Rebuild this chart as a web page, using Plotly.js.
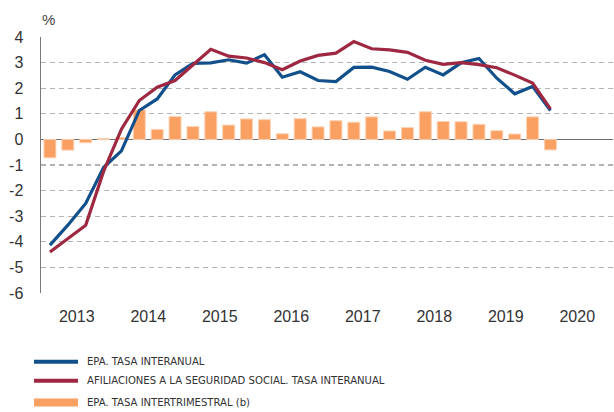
<!DOCTYPE html>
<html>
<head>
<meta charset="utf-8">
<script src="https://cdn.plot.ly/plotly-3.0.1.min.js"></script>
<style>html,body{margin:0;padding:0;background:#fff;}#chart{width:614px;height:412px;}</style>
</head>
<body>
<div id="chart"></div>
<script>
// Quarterly periods
var periodos = [
  "2013-T1","2013-T2","2013-T3","2013-T4",
  "2014-T1","2014-T2","2014-T3","2014-T4",
  "2015-T1","2015-T2","2015-T3","2015-T4",
  "2016-T1","2016-T2","2016-T3","2016-T4",
  "2017-T1","2017-T2","2017-T3","2017-T4",
  "2018-T1","2018-T2","2018-T3","2018-T4",
  "2019-T1","2019-T2","2019-T3","2019-T4",
  "2020-T1"
];
// EPA. Tasa interanual (%)
var epaInteranual = [
  -4.13, -3.35, -2.50, -1.10,
  -0.45, 1.13, 1.58, 2.52,
  2.97, 2.99, 3.11, 2.98,
  3.31, 2.43, 2.64, 2.30,
  2.26, 2.81, 2.82, 2.65,
  2.35, 2.82, 2.52, 2.99,
  3.16, 2.39, 1.78, 2.07,
  1.13
];
// Afiliaciones a la Seguridad Social. Tasa interanual (%)
var afiliaciones = [
  -4.40, -3.87, -3.35, -1.25,
  0.40, 1.52, 2.04, 2.30,
  2.90, 3.52, 3.25, 3.18,
  3.00, 2.72, 3.06, 3.28,
  3.37, 3.82, 3.54, 3.50,
  3.40, 3.09, 2.93, 3.00,
  2.92, 2.80, 2.51, 2.20,
  1.19
];
// EPA. Tasa intertrimestral (%)
var epaIntertrimestral = [
  -0.72, -0.42, -0.13, 0.04,
  0.07, 1.15, 0.39, 0.89,
  0.50, 1.08, 0.56, 0.80,
  0.77, 0.22, 0.81, 0.49,
  0.73, 0.67, 0.88, 0.33,
  0.46, 1.08, 0.70, 0.69,
  0.59, 0.34, 0.21, 0.88,
  -0.41
];
var anios = ["2013","2014","2015","2016","2017","2018","2019","2020"];
var yTicks = [4, 3, 2, 1, 0, -1, -2, -3, -4, -5, -6];
var yTickText = ["4","3","2","1","0","-1","-2","-3","-4","-5","-6"];
var nombres = [
  "EPA. TASA INTERANUAL",
  "AFILIACIONES A LA SEGURIDAD SOCIAL. TASA INTERANUAL",
  "EPA. TASA INTERTRIMESTRAL (b)"
];
var colores = ["#12508c", "#9e2841", "#f9a062"];

// quarter -> numeric position on a year axis
var xq = periodos.map(function (p) {
  var parts = p.split("-T");
  return Number(parts[0]) + (Number(parts[1]) - 0.5) / 4;
});
var yearCenters = anios.map(function (a) { return Number(a) + 0.5; });
var yearBounds = anios.map(function (a) { return Number(a) + 1; });

var traces = [
  {
    type: "bar", x: xq, y: epaIntertrimestral, name: nombres[2],
    marker: { color: colores[2], line: { color: "#fcd2b4", width: 1 } },
    showlegend: false, hoverinfo: "skip"
  },
  {
    type: "scatter", mode: "lines", x: xq, y: epaInteranual, name: nombres[0],
    line: { color: colores[0], width: 3.2 }, showlegend: false
  },
  {
    type: "scatter", mode: "lines", x: xq, y: afiliaciones, name: nombres[1],
    line: { color: colores[1], width: 3.2 }, showlegend: false
  }
];

var L = 41, T = 37, W = 572, H = 256;
function px2x(px) { return (px - L) / W; }
function py2y(py) { return (T + H - py) / H; }

var legY = [361.7, 380.7, 402.5];
var legW = [4, 4, 8];
var shapes = [];
var annotations = [{
  text: "%", xref: "paper", yref: "paper", x: px2x(40), y: py2y(19),
  xanchor: "left", yanchor: "middle", showarrow: false,
  font: { family: "Liberation Sans, Arial, sans-serif", size: 15, color: "#444" }
}];
for (var i = 0; i < 3; i++) {
  shapes.push({
    type: "line", xref: "paper", yref: "paper",
    x0: px2x(34), x1: px2x(78), y0: py2y(legY[i]), y1: py2y(legY[i]),
    line: { color: colores[i], width: legW[i] }
  });
  annotations.push({
    text: nombres[i], xref: "paper", yref: "paper",
    x: px2x(85), y: py2y(legY[i]), xanchor: "left", yanchor: "middle",
    showarrow: false,
    font: { family: "DejaVu Sans Condensed, sans-serif", size: 11.2, color: "#333" }
  });
}

var tickFont = { family: "Liberation Sans, Arial, sans-serif", size: 16, color: "#333" };

var layout = {
  width: 614, height: 412,
  margin: { l: L, r: 614 - L - W, t: T, b: 412 - T - H, pad: 0 },
  paper_bgcolor: "#fff", plot_bgcolor: "#fff",
  bargap: 0.33,
  showlegend: false,
  xaxis: {
    range: [2013, 2021], tickvals: yearCenters, ticktext: anios,
    showgrid: false, zeroline: false, showline: false, ticks: "",
    ticklabelstandoff: 12, tickfont: tickFont, fixedrange: true
  },
  xaxis2: {
    overlaying: "x", anchor: "free", position: 0.6, range: [2013, 2021],
    tickvals: yearBounds, ticks: "outside", ticklen: 5, tickwidth: 1.2, tickcolor: "#888",
    showticklabels: false, showgrid: false, zeroline: false, showline: false
  },
  xaxis3: {
    overlaying: "x", anchor: "free", position: 0.6, range: [2013, 2021],
    tickvals: yearBounds, ticks: "inside", ticklen: 5, tickwidth: 1.2, tickcolor: "#888",
    showticklabels: false, showgrid: false, zeroline: false, showline: false
  },
  yaxis: {
    range: [-6, 4], tickvals: yTicks, ticktext: yTickText,
    showgrid: true, gridcolor: "#b3b3b3", gridwidth: 1.3, griddash: "5px,4px",
    zeroline: true, zerolinecolor: "#6e6e6e", zerolinewidth: 1.5,
    showline: true, linecolor: "#7a7a7a", linewidth: 1.5,
    ticks: "", ticklabelstandoff: 13, tickfont: tickFont, fixedrange: true
  },
  shapes: shapes,
  annotations: annotations
};

Plotly.newPlot("chart", traces, layout, { displayModeBar: false, staticPlot: true });
</script>
</body>
</html>
